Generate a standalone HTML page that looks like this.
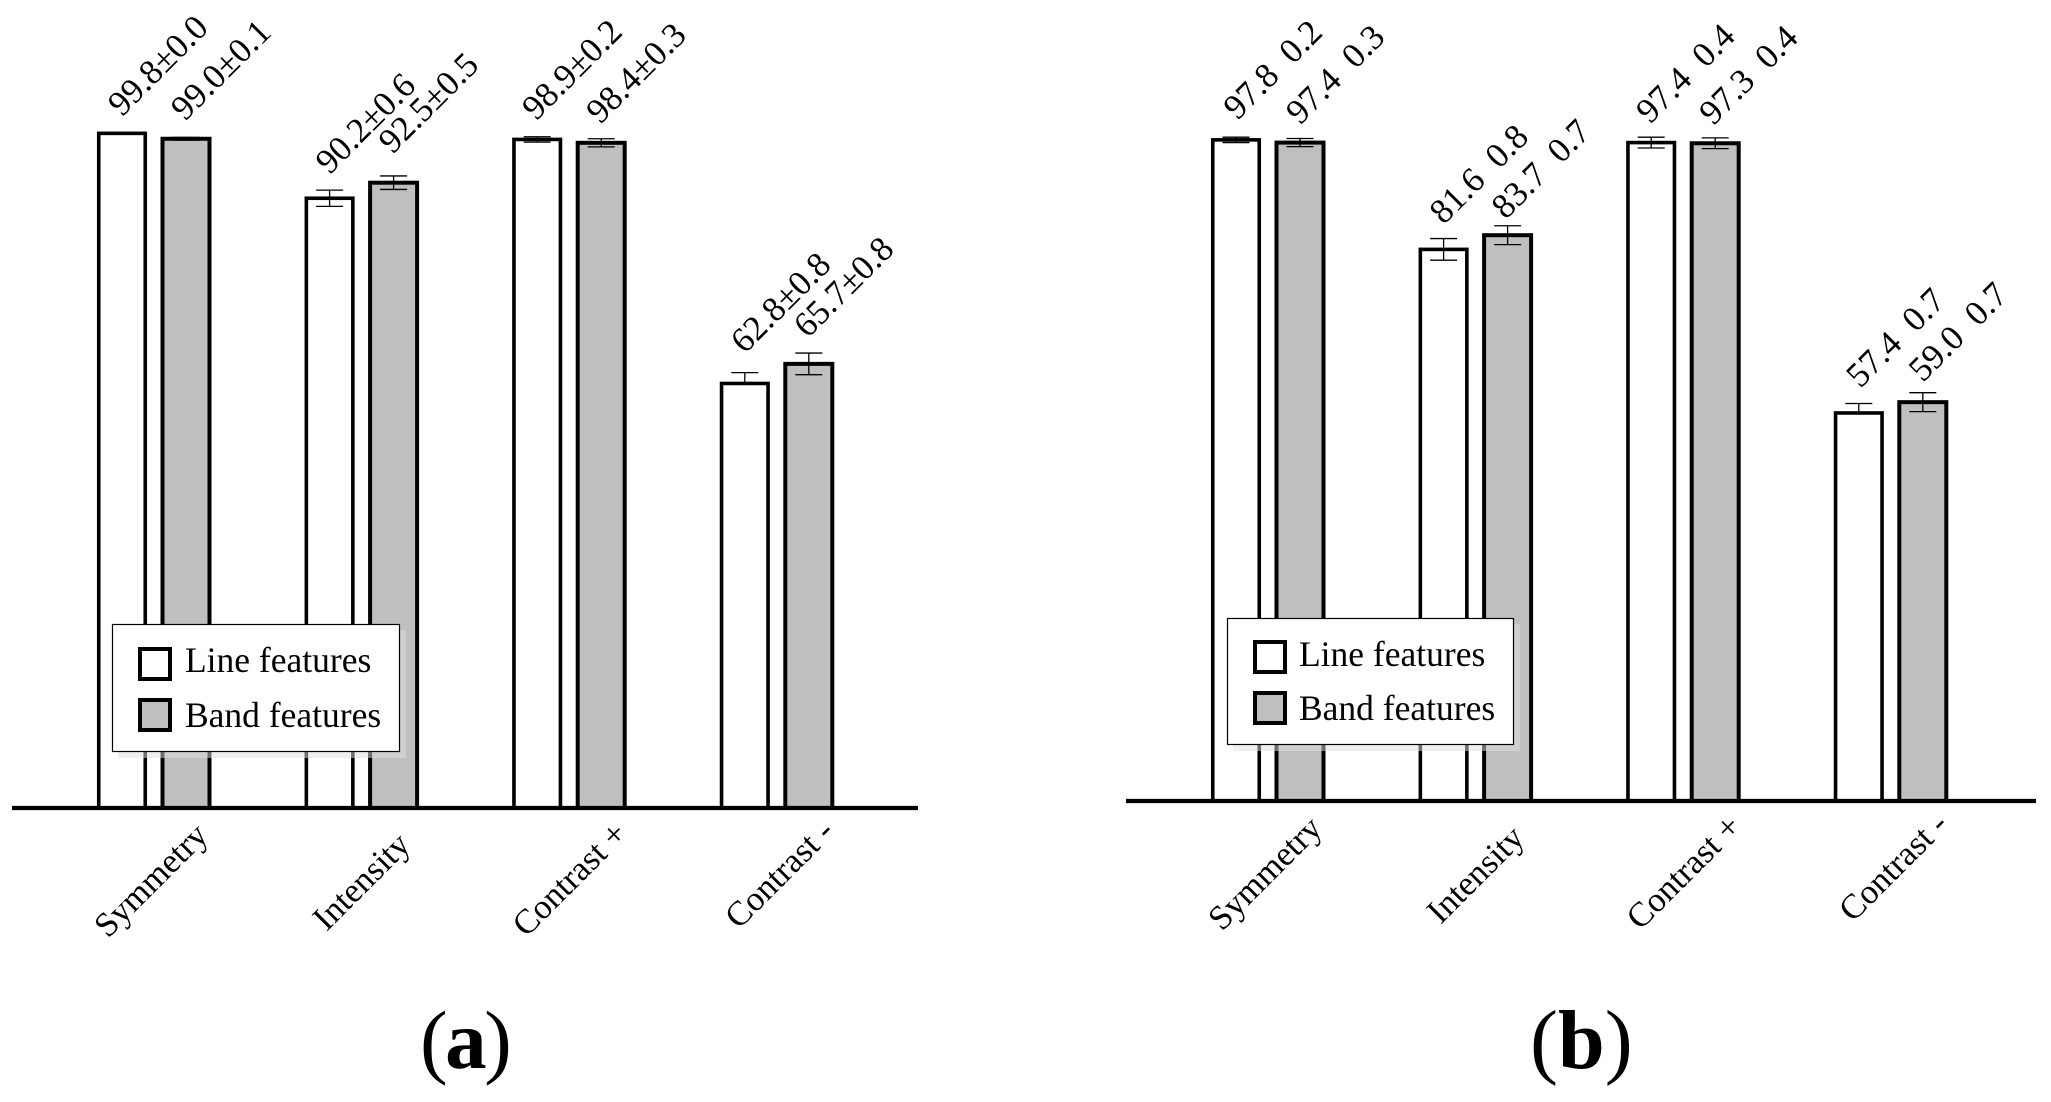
<!DOCTYPE html>
<html lang="en">
<head>
<meta charset="utf-8">
<title>Line and band feature accuracy charts</title>
<style>
  html, body { margin: 0; padding: 0; background: #fff; }
  svg { display: block; font-family: "Liberation Serif", "Times New Roman", serif; fill: #000; }
</style>
</head>
<body>
<svg id="figure" xmlns="http://www.w3.org/2000/svg" width="2051" height="1102" viewBox="0 0 2051 1102">
  <rect x="0" y="0" width="2051" height="1102" fill="#ffffff"/>
  <g id="panel-a"></g>
  <g id="panel-b"></g>

  <g>
    <rect x="118" y="630" width="288" height="128" fill="#e0e0e0" fill-opacity="0.5"/>
    <rect x="112.5" y="624.5" width="287" height="127" fill="#fff" stroke="#000" stroke-width="1.2"/>
    <rect x="140" y="649" width="30" height="30" fill="#fff" stroke="#000" stroke-width="4"/>
    <text x="185" y="672" font-size="35.5">Line features</text>
    <rect x="140" y="700" width="30" height="30" fill="#bfbfbf" stroke="#000" stroke-width="4"/>
    <text x="185" y="727" font-size="35.5">Band features</text>
  </g>

  <g>
    <rect x="1233" y="624" width="287" height="127" fill="#e0e0e0" fill-opacity="0.5"/>
    <rect x="1227.5" y="618.5" width="286" height="126" fill="#fff" stroke="#000" stroke-width="1.2"/>
    <rect x="1255" y="642" width="30" height="30" fill="#fff" stroke="#000" stroke-width="4"/>
    <text x="1299" y="666" font-size="35.5">Line features</text>
    <rect x="1255" y="693" width="30" height="30" fill="#bfbfbf" stroke="#000" stroke-width="4"/>
    <text x="1299" y="720" font-size="35.5">Band features</text>
  </g>

  <text x="420" y="1068" font-size="83" letter-spacing="-2.5">(<tspan font-weight="bold">a</tspan>)</text>
  <text x="1530" y="1068" font-size="84">(<tspan font-weight="bold">b</tspan>)</text>
</svg>

<script>
const categories = ["Symmetry", "Intensity", "Contrast +", "Contrast -"];

const lineValuesA = [99.8, 90.2, 98.9, 62.8];
const lineErrorsA = [0.0, 0.6, 0.2, 0.8];
const bandValuesA = [99.0, 92.5, 98.4, 65.7];
const bandErrorsA = [0.1, 0.5, 0.3, 0.8];

const lineValuesB = [97.8, 81.6, 97.4, 57.4];
const lineErrorsB = [0.2, 0.8, 0.4, 0.7];
const bandValuesB = [97.4, 83.7, 97.3, 59.0];
const bandErrorsB = [0.3, 0.7, 0.4, 0.7];

// Layout (not data): hand placement of the text relative to each mark.
const UNIT_PX = 6.76;
const ERROR_FACTOR = 2;
const GROUP_STEP = 207.6;
const BAND_OFFSET = 64;
const lineLabelNudgeA = [[0, -16], [0, -23], [-1, -18], [0, -29]];
const bandLabelNudgeA = [[-1, -17], [-1, -28], [-1, -18], [-1, -25]];
const lineLabelNudgeB = [[1.5, -19], [0, -24], [-1, -18], [1.5, -24]];
const bandLabelNudgeB = [[0, -17], [-2, -15], [-2, -17], [0, -19]];
const categoryLabelNudge = [[-14, 131], [-3, 124], [-11, 130], [-6, 122]];
const SVG_NS = "http://www.w3.org/2000/svg";

function svgEl(tag, parent) {
  const el = document.createElementNS(SVG_NS, tag);
  parent.appendChild(el);
  return el;
}

function setAll(el, attrs) {
  Object.keys(attrs).forEach(function (k) { el.setAttribute(k, attrs[k]); });
}

function drawBar(g, cx, value, err, fill, strokeW, barW, baseY, hideLower, key) {
  const y = baseY - value * UNIT_PX;
  const bar = svgEl("rect", g);
  setAll(bar, { x: cx - barW / 2, y: y, width: barW, height: baseY - y, fill: fill, stroke: "#000", "stroke-width": strokeW });
  
  

  if (err <= 0) return;
  const half = err * ERROR_FACTOR * UNIT_PX;
  const eb = svgEl("g", g);
  
  
  setAll(eb, { stroke: "#000", "stroke-width": 1.3 });
  const stem = svgEl("line", eb);
  setAll(stem, { x1: cx, x2: cx, y1: y - half, y2: hideLower ? y : y + half });
  const top = svgEl("line", eb);
  setAll(top, { x1: cx - 13.5, x2: cx + 13.5, y1: y - half, y2: y - half });
  if (!hideLower) {
    const low = svgEl("line", eb);
    setAll(low, { x1: cx - 13.5, x2: cx + 13.5, y1: y + half, y2: y + half });
  }
}

function drawValueLabel(g, cx, value, err, separator, nudge, baseY, key) {
  const x = cx + nudge[0];
  const y = baseY - value * UNIT_PX + nudge[1];
  const t = svgEl("text", g);
  setAll(t, { x: x, y: y, "font-size": 35, transform: "rotate(-45 " + x + " " + y + ")" });
  
  
  t.textContent = value.toFixed(1) + separator + err.toFixed(1);
}

function drawPanel(id, cfg) {
  const g = document.getElementById(id);
  categories.forEach(function (name, i) {
    const slug = cfg.key + '-' + name.toLowerCase().replace(/ \+/, '-plus').replace(/ -/, '-minus');
    const lineX = cfg.firstX + i * GROUP_STEP;
    const bandX = lineX + BAND_OFFSET;
    const lastGroup = i === categories.length - 1;
    drawBar(g, lineX, cfg.lineValues[i], cfg.lineErrors[i], "#ffffff", 3.6, 46.5, cfg.baseY, lastGroup, 'line-' + slug);
    drawBar(g, bandX, cfg.bandValues[i], cfg.bandErrors[i], "#bfbfbf", 4, 47, cfg.baseY, false, 'band-' + slug);
    drawValueLabel(g, lineX, cfg.lineValues[i], cfg.lineErrors[i], cfg.separator, cfg.lineNudge[i], cfg.baseY, 'line-' + slug);
    drawValueLabel(g, bandX, cfg.bandValues[i], cfg.bandErrors[i], cfg.separator, cfg.bandNudge[i], cfg.baseY, 'band-' + slug);

    const cx = lineX + categoryLabelNudge[i][0];
    const cy = cfg.baseY + categoryLabelNudge[i][1];
    const label = svgEl("text", g);
    setAll(label, { x: cx, y: cy, "font-size": 34.5, transform: "rotate(-45 " + cx + " " + cy + ")" });
    
    
    label.textContent = name;
  });
  const axis = svgEl("line", g);
  setAll(axis, { x1: cfg.axisStart, x2: cfg.axisEnd, y1: cfg.baseY, y2: cfg.baseY, stroke: "#000", "stroke-width": 4.2 });
  
  
}

drawPanel("panel-a", {
  key: "a", firstX: 122, baseY: 808, axisStart: 12, axisEnd: 918, separator: "\u00b1",
  lineValues: lineValuesA, lineErrors: lineErrorsA, bandValues: bandValuesA, bandErrors: bandErrorsA,
  lineNudge: lineLabelNudgeA, bandNudge: bandLabelNudgeA
});
drawPanel("panel-b", {
  key: "b", firstX: 1236, baseY: 801, axisStart: 1126, axisEnd: 2036, separator: "\u00a0\u00a0",
  lineValues: lineValuesB, lineErrors: lineErrorsB, bandValues: bandValuesB, bandErrors: bandErrorsB,
  lineNudge: lineLabelNudgeB, bandNudge: bandLabelNudgeB
});
</script>
</body>
</html>
